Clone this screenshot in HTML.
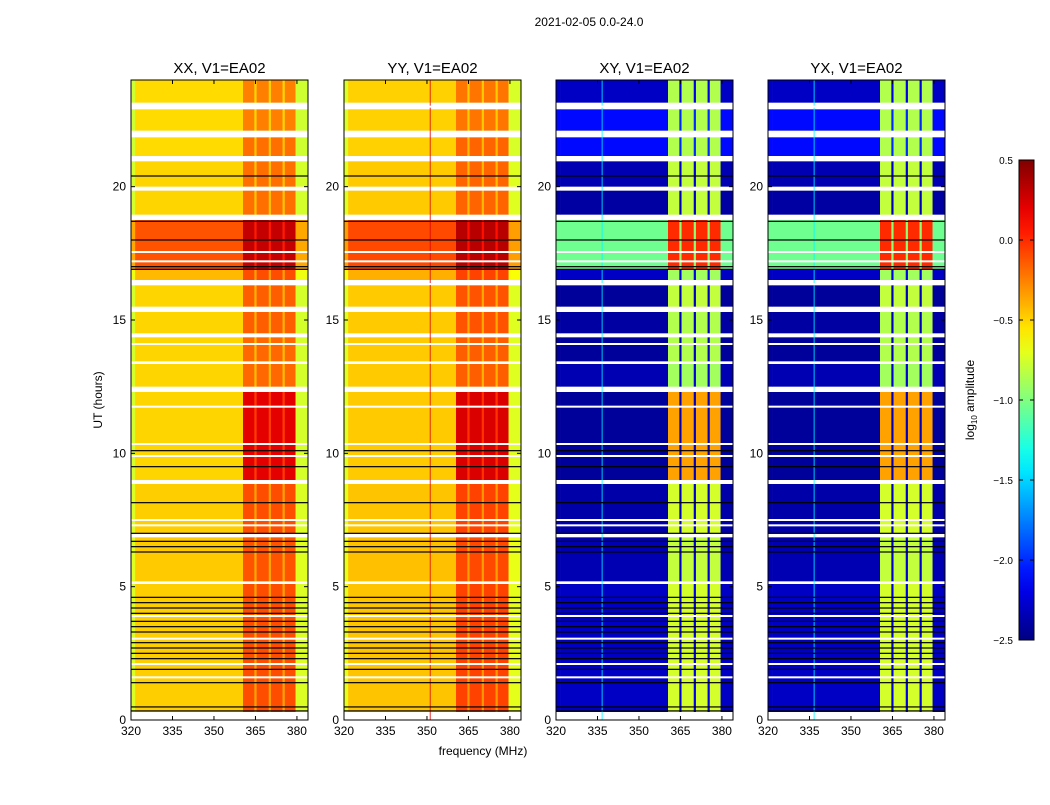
<!DOCTYPE html>
<html><head><meta charset="utf-8"><style>
body{margin:0;background:#fff;width:1050px;height:800px;overflow:hidden}
svg text{font-family:"Liberation Sans",sans-serif}
</style></head><body>
<svg id="fig" width="1050" height="800" xmlns="http://www.w3.org/2000/svg">
<rect width="1050" height="800" fill="#fff"/>
<text x="589" y="26" font-size="12" text-anchor="middle">2021-02-05 0.0-24.0</text>
<text x="483" y="755" font-size="12" text-anchor="middle">frequency (MHz)</text>
<text transform="translate(102,400) rotate(-90)" font-size="12" text-anchor="middle">UT (hours)</text>
<g id="panels"></g>
<defs><linearGradient id="jetg" x1="0" y1="1" x2="0" y2="0"></linearGradient></defs>
<g id="cbar"></g>
<text transform="translate(974,400) rotate(-90)" font-size="12" text-anchor="middle">log<tspan font-size="8" dy="3">10</tspan><tspan dy="-3"> amplitude</tspan></text>
</svg>
<script>
// ---- data ----
const panelTitles = ["XX, V1=EA02","YY, V1=EA02","XY, V1=EA02","YX, V1=EA02"];
const panelKind = ["par","par","cross","cross"];
const xTicks = [320,335,350,365,380];
const yTicks = [0,5,10,15,20];
const cbTicks = [0.5,0.0,-0.5,-1.0,-1.5,-2.0,-2.5];
// frequency channel groups: edges (MHz) and type
const chanEdges = [320,321.5,360.5,364.6,365.4,369.8,370.6,374.8,375.6,379.5,384];
const chanType  = ["edge","bg","band","gap","band","gap","band","gap","band","edge"];
// time segments: start, end (hours), parallel bg, parallel band, cross bg, cross band
const segStart = [0.3,5.2,7.0,9.0,12.5,13.45,14.5,15.5,16.5,16.9,18.95,20.0,21.15,22.1,23.15];
const segEnd   = [5.1,6.85,8.85,12.3,13.35,14.35,15.3,16.3,16.9,18.75,19.85,20.95,21.85,22.9,24.0];
const parBg    = [-0.48,-0.47,-0.48,-0.5,-0.5,-0.5,-0.5,-0.5,-0.42,-0.12,-0.5,-0.5,-0.52,-0.52,-0.52];
const parBand  = [-0.1,-0.12,-0.1,0.2,-0.18,-0.18,-0.15,-0.15,-0.1,0.3,-0.2,-0.2,-0.2,-0.25,-0.25];
const crossBg  = [-2.3,-2.35,-2.38,-2.42,-2.35,-2.42,-2.4,-2.42,-2.3,-1.05,-2.4,-2.35,-2.1,-2.1,-2.3];
const crossBand= [-0.75,-0.8,-0.75,-0.35,-0.9,-0.85,-0.85,-0.8,-0.9,0.0,-0.8,-0.8,-0.85,-0.85,-0.85];
const blackLines = [0.34,0.49,1.4,1.9,2.3,2.5,2.7,2.9,3.3,3.5,3.7,4.0,4.2,4.4,4.6,6.3,6.5,6.7,7.0,8.15,9.5,10.1,16.9,17.0,18.0,18.7,20.4];
const whiteLines = [1.6,2.1,3.05,3.9,7.3,7.5,9.9,10.35,11.75,13.4,14.1,16.35,17.2,17.55,23.0];

// ---- geometry ----
const panelX=[131,344,556,768], PW=177, Y0=720, Y1=80, F0=320, F1=384, H1=24;
const sx=(p,f)=>panelX[p]+(f-F0)/(F1-F0)*PW;
const sy=h=>Y0-(h/H1)*(Y0-Y1);
function jet(v){let t=(v+2.5)/3;t=Math.max(0,Math.min(1,t));
 const c=x=>Math.round(255*Math.max(0,Math.min(1,1.5-Math.abs(4*t-x))));
 return `rgb(${c(3)},${c(2)},${c(1)})`;}
const NS="http://www.w3.org/2000/svg";
function mk(tag,attrs,parent){const e=document.createElementNS(NS,tag);for(const k in attrs)e.setAttribute(k,attrs[k]);parent.appendChild(e);return e;}
const root=document.getElementById('panels');
for(let p=0;p<4;p++){
 const g=mk('g',{},root);
 
 
 for(let s=0;s<segStart.length;s++){
  for(let c=0;c<chanType.length;c++){
   const t=chanType[c];let v;
   if(panelKind[p]==="par"){
    v = t==="edge"?parBg[s]-0.25 : t==="bg"?parBg[s] : t==="band"?parBand[s] : parBand[s]-0.25;
    if(p===1) v+=0.03;
   } else {
    v = t==="edge"||t==="bg"?crossBg[s] : t==="band"?crossBand[s] : crossBg[s]+0.1;
   }
   const x0=sx(p,chanEdges[c]),x1=sx(p,chanEdges[c+1]);
   const r=mk('rect',{x:x0,y:sy(segEnd[s]),width:x1-x0+0.3,height:sy(segStart[s])-sy(segEnd[s]),fill:jet(v)},g);
   
   
  }
 }
 if(panelKind[p]==="cross"){
  const l=mk('rect',{x:sx(p,336.5),y:Y1,width:1,height:Y0-Y1,fill:jet(-1.4),opacity:0.8},g);
  
  
 }
 if(p===1){
  const l=mk('rect',{x:sx(p,351),y:Y1,width:1,height:Y0-Y1,fill:'#e00000',opacity:0.8},g);
  
  
 }
 for(const h of whiteLines){const l=mk('rect',{x:panelX[p],y:sy(h)-1,width:PW,height:2,fill:'#fff'},g);
  
  }
 for(const h of blackLines){const l=mk('rect',{x:panelX[p],y:sy(h)-0.6,width:PW,height:1.2,fill:'#000'},g);
  
  }
 const fr=mk('rect',{x:panelX[p],y:Y1,width:PW,height:Y0-Y1,fill:'none',stroke:'#000','stroke-width':1},g);
 
 
 const tt=mk('text',{x:panelX[p]+PW/2,y:73,'font-size':15,'text-anchor':'middle'},g);tt.textContent=panelTitles[p];
 
 
 for(const f of xTicks){const x=sx(p,f);
  mk('line',{x1:x,x2:x,y1:Y0,y2:Y0-4,stroke:'#000'},g);mk('line',{x1:x,x2:x,y1:Y1,y2:Y1+4,stroke:'#000'},g);
  const t=mk('text',{x:x,y:Y0+15,'font-size':12,'text-anchor':'middle'},g);t.textContent=f;
  
  }
 for(const h of yTicks){const y=sy(h);
  mk('line',{x1:panelX[p],x2:panelX[p]+4,y1:y,y2:y,stroke:'#000'},g);mk('line',{x1:panelX[p]+PW,x2:panelX[p]+PW-4,y1:y,y2:y,stroke:'#000'},g);
  const t=mk('text',{x:panelX[p]-5,y:y+4,'font-size':12,'text-anchor':'end'},g);t.textContent=h;
  
  }
}
// colorbar
const grad=document.getElementById('jetg');
for(let i=0;i<=20;i++){mk('stop',{offset:i/20,'stop-color':jet(-2.5+3*i/20)},grad);}
const cb=document.getElementById('cbar');
mk('rect',{x:1019,y:160,width:15,height:480,fill:'url(#jetg)',stroke:'#000'},cb);
for(const v of cbTicks){const y=640-(v+2.5)/3*480;
 mk('line',{x1:1034,x2:1030,y1:y,y2:y,stroke:'#000'},cb);mk('line',{x1:1019,x2:1023,y1:y,y2:y,stroke:'#000'},cb);
 const t=mk('text',{x:1013,y:y+4,'font-size':10,'text-anchor':'end'},cb);t.textContent=v.toFixed(1).replace('-','\u2212');
 
 }
</script>
</body></html>
